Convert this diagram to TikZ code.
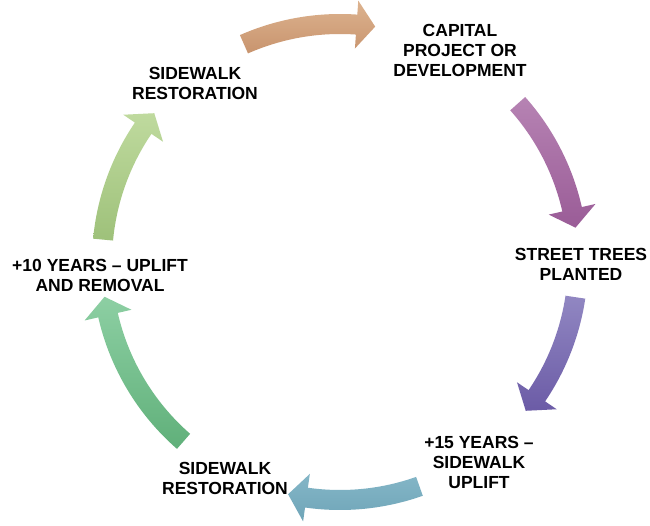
\documentclass[tikz,border=0pt]{standalone}
\usepackage{fontspec}
\setmainfont{Liberation Sans}
\definecolor{aTop}{HTML}{DDB38F}\definecolor{aBot}{HTML}{C8946E}
\definecolor{bTop}{HTML}{B683B3}\definecolor{bBot}{HTML}{9A5C97}
\definecolor{cTop}{HTML}{9187C2}\definecolor{cBot}{HTML}{6B5BA6}
\definecolor{dTop}{HTML}{84B6C7}\definecolor{dBot}{HTML}{6FA5B8}
\definecolor{eTop}{HTML}{8DCFA3}\definecolor{eBot}{HTML}{60B07A}
\definecolor{fTop}{HTML}{BFDA9E}\definecolor{fBot}{HTML}{9EC17A}
\newcommand{\cyclearrow}[4]{%
  \pgfmathsetmacro{\hb}{#2+4.5}%
  \path[top color=#3, bottom color=#4]
    (#1:248pt) arc[start angle=#1, end angle=\hb, radius=248pt]
    -- (\hb:262pt) -- (#2:238pt) -- (\hb:214pt) -- (\hb:228pt)
    arc[start angle=\hb, end angle=#1, radius=228pt] -- cycle;
}
\tikzset{steplabel/.style={align=center, inner sep=0pt,
  font=\bfseries\fontsize{17.5}{20}\selectfont}}
\begin{document}
\begin{tikzpicture}[x=1pt,y=1pt]
\fill[white] (0,0) rectangle (650,-526);
\useasboundingbox (0,0) rectangle (650,-526);
\begin{scope}[shift={(340,-262)}]
  \cyclearrow{113.8}{81.5}{aTop}{aBot}
  \cyclearrow{41.7}{8.3}{bTop}{bBot}
  \cyclearrow{-8.5}{-38.7}{cTop}{cBot}
  \cyclearrow{-70.5}{-102.6}{dTop}{dBot}
  \cyclearrow{228.9}{188.4}{eTop}{eBot}
  \cyclearrow{174.6}{141.3}{fTop}{fBot}
\end{scope}
\node[steplabel] (capital) at (460,-50) {CAPITAL\\PROJECT OR\\DEVELOPMENT};
\node[steplabel] (trees) at (581,-264) {STREET TREES\\PLANTED};
\node[steplabel] (uplift15) at (479,-462) {+15 YEARS –\\SIDEWALK\\UPLIFT};
\node[steplabel] (restoreb) at (225,-478) {SIDEWALK\\RESTORATION};
\node[steplabel] (uplift10) at (100,-275) {+10 YEARS – UPLIFT\\AND REMOVAL};
\node[steplabel] (restoret) at (195,-83) {SIDEWALK\\RESTORATION};
\end{tikzpicture}
\end{document}
